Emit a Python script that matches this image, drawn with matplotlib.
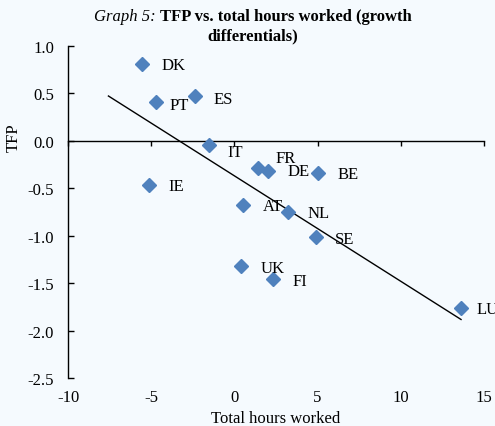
import numpy as np
import matplotlib.pyplot as plt

countries = ["DK", "PT", "ES", "IT", "FR", "DE", "BE", "IE", "AT", "NL", "SE", "UK", "FI", "LU"]
hours = [-5.57, -4.71, -2.37, -1.51, 1.44, 2.00, 5.04, -5.13, 0.54, 3.24, 4.88, 0.38, 2.34, 13.62]
tfp = [0.81, 0.41, 0.47, -0.04, -0.285, -0.316, -0.34, -0.464, -0.674, -0.75, -1.015, -1.324, -1.46, -1.763]

x_ticks = [-10, -5, 0, 5, 10, 15]
y_ticks = [-2.5, -2.0, -1.5, -1.0, -0.5, 0.0, 0.5, 1.0]

# label nudges in points (dx, dy) where Excel shifted them
label_shift = {"PT": (10, -2), "ES": (13, -2), "IT": (13, -5), "FR": (12, 7),
               "DE": (14, 0), "LU": (11, -1)}

BG = "#F5FAFE"
BLUE = "#4F81BD"
FS = 12

plt.rcParams["font.family"] = ["Liberation Serif", "DejaVu Serif"]
plt.rcParams["font.size"] = FS

fig = plt.figure(figsize=(4.95, 4.27), dpi=100, facecolor=BG)
ax = fig.add_axes([68 / 495, 1 - 379 / 427, 416 / 495, 332 / 427], facecolor=BG)

ax.set_xlim(-10, 15)
ax.set_ylim(-2.5, 1.0)

# trend line: least squares, extended 2 units backwards like Excel
slope, intercept = np.polyfit(hours, tfp, 1)
tx = np.array([min(hours) - 2, max(hours)])
ax.plot(tx, slope * tx + intercept, color="black", lw=1.0, zorder=2)

ax.plot(hours, tfp, linestyle="none", marker="D", ms=7.2, color=BLUE,
        markeredgecolor=BLUE, zorder=3, clip_on=False)

for c, x, y in zip(countries, hours, tfp):
    dx, dy = label_shift.get(c, (14, -1))
    ax.annotate(c, (x, y), xytext=(dx, dy), textcoords="offset points",
                ha="left", va="center", fontsize=FS, zorder=4, annotation_clip=False)

for s in ["top", "right", "bottom"]:
    ax.spines[s].set_visible(False)
ax.spines["left"].set_linewidth(1.0)

ax.set_xticks(x_ticks)
ax.set_xticklabels([str(t) for t in x_ticks])
ax.tick_params(axis="x", length=0, pad=8)
ax.set_yticks(y_ticks)
ax.set_yticklabels([f"{t:.1f}" for t in y_ticks])
ax.tick_params(axis="y", direction="in", length=4, width=1.0, pad=10)

# horizontal axis line sits at y = 0
y0 = (0 - (-2.5)) / 3.5
sec = ax.secondary_xaxis(y0)
sec.set_xticks(x_ticks)
sec.tick_params(axis="x", direction="in", length=3.5, width=1.0, labelbottom=False, labeltop=False)
sec.spines["bottom"].set_linewidth(1.0)
sec.spines["top"].set_linewidth(1.0)

ax.set_xlabel("Total hours worked", fontsize=FS, va="center")
ax.xaxis.set_label_coords(0.5, -0.12)
ax.set_ylabel("TFP", fontsize=FS)
ax.yaxis.set_label_coords(-0.11, 0.726)

# title with italic prefix and bold rest
fig.canvas.draw()
r = fig.canvas.get_renderer()
t1 = fig.text(0, 1 - 17 / 427, "Graph 5: ", style="italic", fontsize=FS, va="center")
t2 = fig.text(0, 1 - 17 / 427, "TFP vs. total hours worked (growth", fontweight="bold",
              fontsize=FS, va="center")
w1 = t1.get_window_extent(r).width / fig.bbox.width
w2 = t2.get_window_extent(r).width / fig.bbox.width
x_start = 253 / 495 - (w1 + w2) / 2
t1.set_x(x_start)
t2.set_x(x_start + w1)
fig.text(253 / 495, 1 - 36 / 427, "differentials)", fontweight="bold", fontsize=FS,
         ha="center", va="center")

fig.savefig("out.png", dpi=100, facecolor=BG)
